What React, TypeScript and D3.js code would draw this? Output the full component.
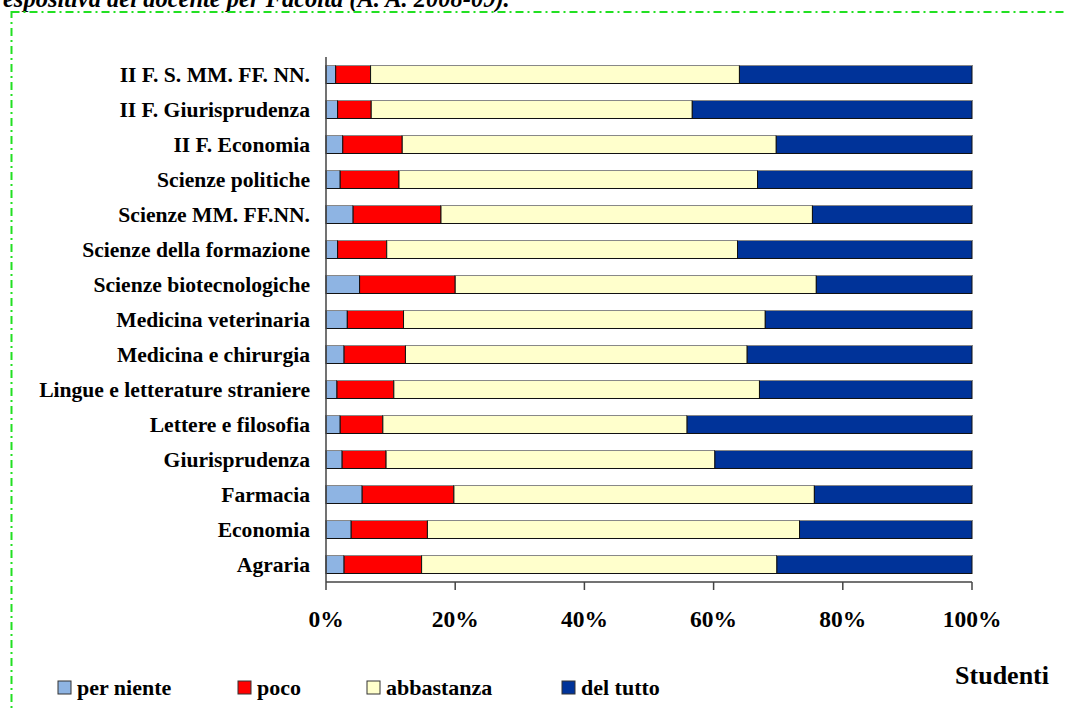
import React from "react";
import * as d3 from "d3";

const categories = [
  "II F. S. MM. FF. NN.",
  "II F. Giurisprudenza",
  "II F. Economia",
  "Scienze politiche",
  "Scienze MM. FF.NN.",
  "Scienze della formazione",
  "Scienze biotecnologiche",
  "Medicina veterinaria",
  "Medicina e chirurgia",
  "Lingue e letterature straniere",
  "Lettere e filosofia",
  "Giurisprudenza",
  "Farmacia",
  "Economia",
  "Agraria",
];

const perNiente = [1.5, 1.8, 2.6, 2.2, 4.2, 1.8, 5.2, 3.3, 2.8, 1.7, 2.2, 2.5, 5.6, 3.9, 2.8];
const poco = [5.4, 5.2, 9.2, 9.1, 13.6, 7.6, 14.8, 8.7, 9.5, 8.8, 6.6, 6.8, 14.2, 11.8, 12.0];
const abbastanza = [57.1, 49.7, 57.9, 55.5, 57.5, 54.3, 55.9, 56.0, 52.9, 56.6, 47.1, 50.9, 55.8, 57.6, 55.0];
const delTutto = [36.0, 43.3, 30.3, 33.2, 24.7, 36.3, 24.1, 32.0, 34.8, 32.9, 44.1, 39.8, 24.4, 26.7, 30.2];

const seriesNames = ["per niente", "poco", "abbastanza", "del tutto"];
const seriesColors = ["#8EB4E3", "#FF0000", "#FFFFCC", "#003399"];
const xTicks = [0, 20, 40, 60, 80, 100];

const titleText = "espositiva del docente per Facoltà (A. A. 2008-09).";

export default function App() {
  const W = 1065;
  const H = 709;
  const x = d3.scaleLinear().domain([0, 100]).range([326, 972]);
  const y = d3
    .scaleBand<string>()
    .domain(categories)
    .range([57, 582])
    .paddingInner(0.486)
    .paddingOuter(0.243);

  const rows = categories.map((c, i) => ({
    cat: c,
    "per niente": perNiente[i],
    poco: poco[i],
    abbastanza: abbastanza[i],
    "del tutto": delTutto[i],
  }));
  const stack = d3.stack<any>().keys(seriesNames);
  const stacked = stack(rows);

  const font = "'Liberation Serif', 'Times New Roman', serif";
  const legendX = [58, 238, 367, 562];

  return (
    <svg
      width={W}
      height={H}
      style={{ position: "absolute", left: 0, top: 0, background: "#fff" }}
      fontFamily={font}
    >
      <text x={3} y={7} fontSize={24.5} fontWeight="bold" fontStyle="italic" fill="#000">
        {titleText}
      </text>
      <rect
        x={11.5}
        y={12}
        width={1200}
        height={900}
        fill="none"
        stroke="#22E022"
        strokeWidth={2}
        strokeDasharray="8 4 2 4"
      />

      {stacked.map((s, si) => (
        <g key={s.key}>
          {s.map((d, i) => {
            const x0 = x(d[0]);
            const x1 = x(d[1]);
            const yy = y(categories[i])!;
            const bh = y.bandwidth();
            return (
              <g key={i}>
                <rect
                  x={x0}
                  y={yy}
                  width={x1 - x0}
                  height={bh}
                  fill={seriesColors[si]}
                  stroke="#111"
                  strokeWidth={1}
                />
                <line x1={x0} x2={x1} y1={yy} y2={yy} stroke="#888" strokeWidth={1} />
              </g>
            );
          })}
        </g>
      ))}

      {/* axes */}
      <line x1={326} x2={326} y1={57} y2={582} stroke="#444" strokeWidth={1.5} />
      <line x1={326} x2={972} y1={582} y2={582} stroke="#444" strokeWidth={1.5} />
      {xTicks.map((t) => (
        <g key={t}>
          <line x1={x(t)} x2={x(t)} y1={582} y2={590} stroke="#444" strokeWidth={1.5} />
          <text
            x={x(t)}
            y={627}
            textAnchor="middle"
            fontSize={23.5}
            fontWeight="bold"
            fill="#000"
          >
            {t}%
          </text>
        </g>
      ))}

      {categories.map((c) => (
        <text
          key={c}
          x={310}
          y={y(c)! + y.bandwidth() / 2 + 7}
          textAnchor="end"
          fontSize={21.6}
          fontWeight="bold"
          fill="#000"
        >
          {c}
        </text>
      ))}

      {seriesNames.map((n, i) => (
        <g key={n}>
          <rect
            x={legendX[i]}
            y={681}
            width={13}
            height={13}
            fill={seriesColors[i]}
            stroke="#333"
            strokeWidth={1}
          />
          <text x={legendX[i] + 19} y={695} fontSize={22} fontWeight="bold" fill="#000">
            {n}
          </text>
        </g>
      ))}

      <text x={1049} y={684} textAnchor="end" fontSize={26} fontWeight="bold" fill="#000">
        Studenti
      </text>
    </svg>
  );
}
